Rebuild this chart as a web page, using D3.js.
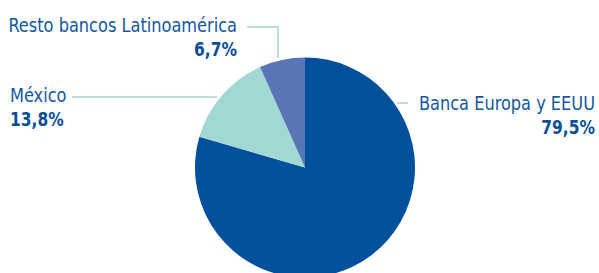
<!DOCTYPE html>
<html>
<head>
<meta charset="utf-8">
<script src="https://cdn.jsdelivr.net/npm/d3@7"></script>
<style>
  body { margin: 0; background: #fff; }
  text { font-family: "DejaVu Sans Condensed", "DejaVu Sans", sans-serif; }
</style>
</head>
<body>
<div id="chart"></div>
<script>
const labels = ["Banca Europa y EEUU", "México", "Resto bancos Latinoamérica"];
const values = [79.5, 13.8, 6.7];
const valueLabels = ["79,5%", "13,8%", "6,7%"];
const colors = ["#00509d", "#a2d8d3", "#5876b6"];

const width = 599;
const height = 273;
const radius = 110;
const cx = 305;
const cy = 167.5;

const svg = d3
  .select("#chart")
  .append("svg")
  .attr("width", width)
  .attr("height", height);

const pie = d3.pie().sort(null).value(function(d) { return d; });
const arc = d3.arc().innerRadius(0).outerRadius(radius);

const arcs = pie(values);

svg
  .append("g")
  .attr("transform", "translate(" + cx + "," + cy + ")")
  .selectAll("path")
  .data(arcs)
  .enter()
  .append("path")
  .attr("d", arc)
  .style("fill", function(d, i) { return colors[i]; });

// label placement for each slice (leader line + two text lines)
const lineColor = "#a2d8d3";
const textColor = "#1458a0";
const pctColor = "#0a4e98";

const labelSpec = [
  { x: 595, y: 110, anchor: "end", line: [[397, 103], [408, 103]] },
  { x: 10, y: 102, anchor: "start", line: [[72, 97], [217, 97]] },
  { x: 237, y: 32, anchor: "end", line: [[247, 27], [278, 27], [278, 58]] }
];

labelSpec.forEach(function(s, i) {
  svg
    .append("path")
    .attr("d", d3.line()(s.line))
    .style("fill", "none")
    .style("stroke", lineColor)
    .style("stroke-width", 1.5);

  // the original uses a condensed face, squeeze horizontally
  svg
    .append("text")
    .attr("transform", "translate(" + s.x + "," + s.y + ") scale(0.9,1)")
    .style("text-anchor", s.anchor)
    .style("font-size", "20px")
    .style("fill", textColor)
    .text(labels[i]);

  svg
    .append("text")
    .attr("transform", "translate(" + s.x + "," + (s.y + 24) + ") scale(0.86,1)")
    .style("text-anchor", s.anchor)
    .style("font-size", "20px")
    .style("font-weight", "bold")
    .style("fill", pctColor)
    .text(valueLabels[i]);
});
</script>
</body>
</html>
